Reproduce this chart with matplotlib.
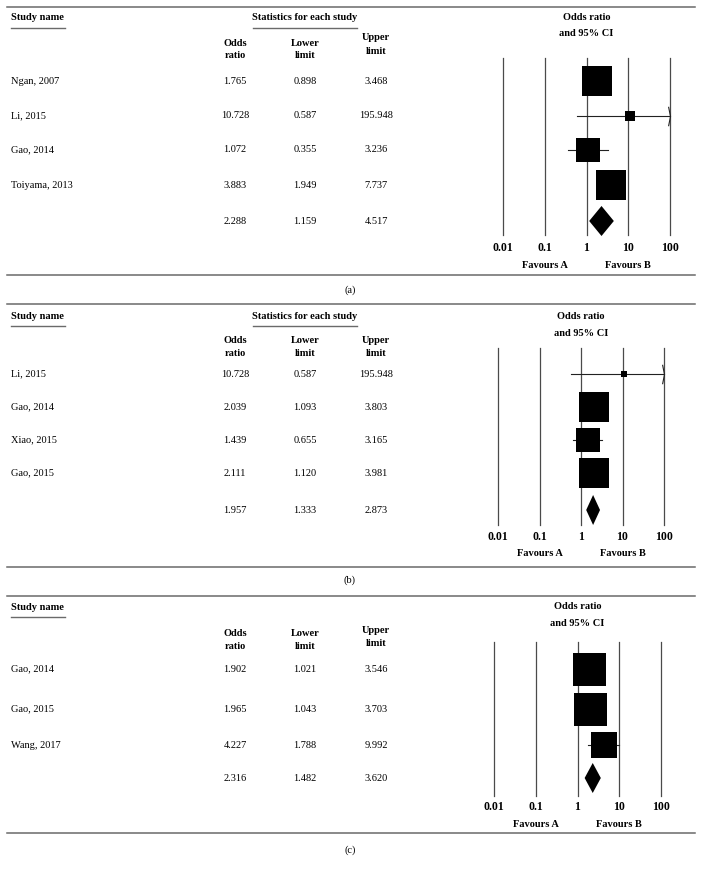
import matplotlib
matplotlib.use("Agg")
import matplotlib.pyplot as plt
from matplotlib.transforms import blended_transform_factory

# ─────────────────────────────────────────────────────────────────────────────
# Data
# ─────────────────────────────────────────────────────────────────────────────

studies_a = ["Ngan, 2007", "Li, 2015", "Gao, 2014", "Toiyama, 2013"]
or_a = [1.765, 10.728, 1.072, 3.883]
lower_a = [0.898, 0.587, 0.355, 1.949]
upper_a = [3.468, 195.948, 3.236, 7.737]
pooled_a = (2.288, 1.159, 4.517)

studies_b = ["Li, 2015", "Gao, 2014", "Xiao, 2015", "Gao, 2015"]
or_b = [10.728, 2.039, 1.439, 2.111]
lower_b = [0.587, 1.093, 0.655, 1.120]
upper_b = [195.948, 3.803, 3.165, 3.981]
pooled_b = (1.957, 1.333, 2.873)

studies_c = ["Gao, 2014", "Gao, 2015", "Wang, 2017"]
or_c = [1.902, 1.965, 4.227]
lower_c = [1.021, 1.043, 1.788]
upper_c = [3.546, 3.703, 9.992]
pooled_c = (2.316, 1.482, 3.620)

decades = [0.01, 0.1, 1, 10, 100]
decade_labels = ["0.01", "0.1", "1", "10", "100"]

# ─────────────────────────────────────────────────────────────────────────────
# Layout (pixels) and style
# ─────────────────────────────────────────────────────────────────────────────

W, H = 703, 871
FS = 7.5
FS_TICK = 8.5
SERIF = ["Liberation Serif", "DejaVu Serif"]
RULE = "#6a6a6a"
GRID = "#4a4a4a"

panels = [
    dict(label="(a)", studies=studies_a, est=or_a, lo=lower_a, hi=upper_a,
         pooled=pooled_a, top=7, bottom=275, head=17, uline=28, stats=True,
         col_y=[(43, 56), (43, 56), (37, 52)], rows=[81, 116, 150, 185, 221],
         boxes=[30, 10, 24, 30], fx=(503, 670), fy=(58, 235),
         tick_y=248, fav_y=265, or_y=(17, 34), tag_y=290),
    dict(label="(b)", studies=studies_b, est=or_b, lo=lower_b, hi=upper_b,
         pooled=pooled_b, top=304, bottom=567, head=316, uline=326, stats=True,
         col_y=[(340, 353), (340, 353), (340, 353)], rows=[374, 407, 440, 473, 510],
         boxes=[6, 30, 24, 30], fx=(498, 664), fy=(348, 525),
         tick_y=537, fav_y=553, or_y=(316, 333), tag_y=580),
    dict(label="(c)", studies=studies_c, est=or_c, lo=lower_c, hi=upper_c,
         pooled=pooled_c, top=596, bottom=833, head=607, uline=617, stats=False,
         col_y=[(633, 646), (633, 646), (630, 643)], rows=[669, 709, 745, 778],
         boxes=[33, 33, 26], fx=(494, 661), fy=(642, 796),
         tick_y=807, fav_y=824, or_y=(606, 623), tag_y=850),
]

col_x = [235, 305, 376]
col_head = [("Odds", "ratio"), ("Lower", "limit"), ("Upper", "limit")]

plt.rcParams['font.family'] = SERIF

fig = plt.figure(figsize=(W / 100, H / 100), dpi=100)
ax = fig.add_axes([0, 0, 1, 1])
ax.set_xlim(0, W)
ax.set_ylim(H, 0)
ax.axis('off')

arrow = [(-0.2, 1.0), (0.0, 0.0), (-0.2, -1.0)]

for p in panels:
    # rules and headers
    ax.plot([7, 695], [p['top']] * 2, color=RULE, lw=1.1)
    ax.plot([7, 695], [p['bottom']] * 2, color=RULE, lw=1.1)
    ax.text(350, p['tag_y'], p['label'], ha='center', va='center', fontsize=FS)

    ax.text(11, p['head'], "Study name", fontsize=FS, fontweight='bold',
            ha='left', va='center')
    ax.plot([11, 65], [p['uline']] * 2, color=RULE, lw=1.0)
    if p['stats']:
        ax.text(305, p['head'], "Statistics for each study", fontsize=FS,
                fontweight='bold', ha='center', va='center')
        ax.plot([253, 357], [p['uline']] * 2, color=RULE, lw=1.0)

    for x, (l1, l2), (y1, y2) in zip(col_x, col_head, p['col_y']):
        ax.text(x, y1, l1, fontsize=FS, fontweight='bold', ha='center', va='center')
        ax.text(x, y2, l2, fontsize=FS, fontweight='bold', ha='center', va='center')

    # table rows
    values = list(zip(p['est'], p['lo'], p['hi'])) + [p['pooled']]
    names = p['studies'] + [""]
    for name, vals, y in zip(names, values, p['rows']):
        ax.text(11, y, name, fontsize=FS, ha='left', va='center')
        for x, v in zip(col_x, vals):
            ax.text(x, y, f"{v:.3f}", fontsize=FS, ha='center', va='center')

    # forest plot axes
    x0, x1 = p['fx']
    y0, y1 = p['fy']
    fx = fig.add_axes([x0 / W, 1 - y1 / H, (x1 - x0) / W, (y1 - y0) / H])
    fx.set_xscale('log')
    fx.set_xlim(decades[0], decades[-1])
    fx.set_ylim(y1, y0)
    fx.axis('off')
    for d in decades:
        fx.axvline(d, color=GRID, lw=0.9, clip_on=False)

    for est, lo, hi, y, box in zip(p['est'], p['lo'], p['hi'], p['rows'], p['boxes']):
        fx.plot([lo, min(hi, decades[-1])], [y, y], color='#222222', lw=0.8,
                clip_on=False)
        if hi > decades[-1]:
            fx.plot([decades[-1]], [y], marker=arrow, ms=14, mfc='none',
                    mec='#222222', mew=0.8, clip_on=False)
        fx.plot([est], [y], marker='s', ms=box * 0.72, color='black', mew=0,
                clip_on=False)

    pe, pl, ph = p['pooled']
    py = p['rows'][-1]
    fx.fill([pl, pe, ph, pe], [py, py - 15, py, py + 15], color='black', lw=0,
            clip_on=False)

    tr = blended_transform_factory(fx.transData, ax.transData)
    for d, lab in zip(decades, decade_labels):
        ax.text(d, p['tick_y'], lab, transform=tr, fontsize=FS_TICK,
                fontweight='bold', ha='center', va='center')
    ax.text(0.1, p['fav_y'], "Favours A", transform=tr, fontsize=FS,
            fontweight='bold', ha='center', va='center')
    ax.text(10, p['fav_y'], "Favours B", transform=tr, fontsize=FS,
            fontweight='bold', ha='center', va='center')
    ax.text(1, p['or_y'][0], "Odds ratio", transform=tr, fontsize=FS,
            fontweight='bold', ha='center', va='center')
    ax.text(1, p['or_y'][1], "and 95% CI", transform=tr, fontsize=FS,
            fontweight='bold', ha='center', va='center')

fig.savefig("out.png", dpi=100)
